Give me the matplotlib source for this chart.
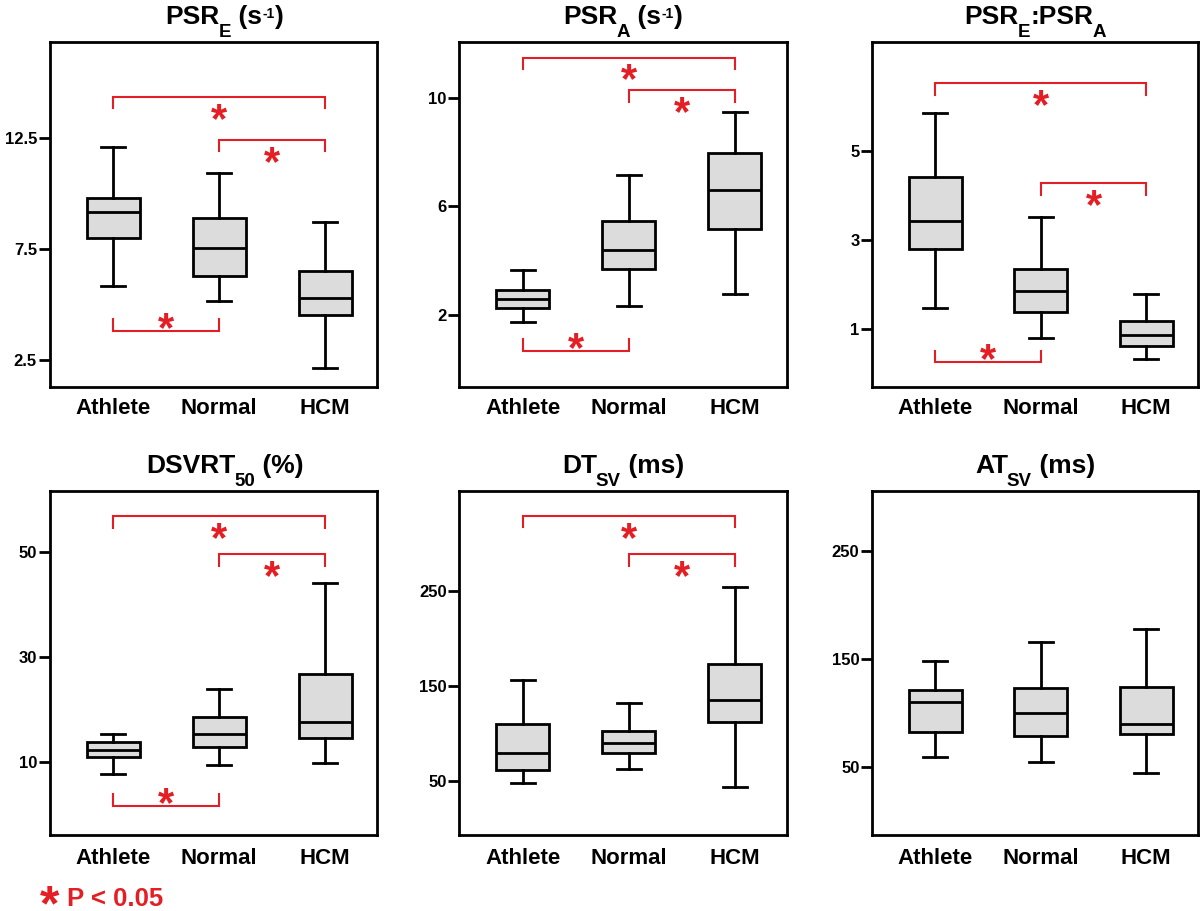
import matplotlib
matplotlib.use('Agg')
import matplotlib.pyplot as plt

plt.rcParams['font.family'] = ['Liberation Sans', 'DejaVu Sans']
plt.rcParams['font.weight'] = 'bold'

GROUPS = ['Athlete', 'Normal', 'HCM']

# five-number summaries (whisker low, Q1, median, Q3, whisker high)
PSRE_LO = [5.83, 5.17, 2.15]
PSRE_Q1 = [8.0, 6.28, 4.52]
PSRE_MED = [9.17, 7.52, 5.3]
PSRE_Q3 = [9.77, 8.87, 6.5]
PSRE_HI = [12.1, 10.9, 8.69]

PSRA_LO = [1.72, 2.31, 2.75]
PSRA_Q1 = [2.24, 3.68, 5.15]
PSRA_MED = [2.56, 4.37, 6.59]
PSRA_Q3 = [2.92, 5.45, 7.97]
PSRA_HI = [3.66, 7.14, 9.49]

RATIO_LO = [1.49, 0.81, 0.34]
RATIO_Q1 = [2.81, 1.38, 0.63]
RATIO_MED = [3.44, 1.85, 0.88]
RATIO_Q3 = [4.42, 2.35, 1.19]
RATIO_HI = [5.84, 3.51, 1.79]

DSVRT_LO = [7.77, 9.43, 9.8]
DSVRT_Q1 = [11.0, 12.92, 14.64]
DSVRT_MED = [12.23, 15.34, 17.57]
DSVRT_Q3 = [13.76, 18.58, 26.79]
DSVRT_HI = [15.4, 23.87, 44.2]

DTSV_LO = [47.9, 62.0, 43.7]
DTSV_Q1 = [61.3, 78.8, 112.1]
DTSV_MED = [78.8, 89.4, 135.0]
DTSV_Q3 = [109.7, 102.6, 172.8]
DTSV_HI = [156.0, 132.1, 254.2]

ATSV_LO = [58.7, 54.0, 43.8]
ATSV_Q1 = [82.5, 78.7, 80.0]
ATSV_MED = [109.7, 99.5, 89.9]
ATSV_Q3 = [121.1, 123.3, 124.2]
ATSV_HI = [148.0, 165.9, 177.7]

# significance brackets: (group a, group b, bar level, opening direction)
PSRE_SIG = [(0, 2, 14.34, 'down'), (1, 2, 12.4, 'down'), (0, 1, 3.82, 'up')]
PSRA_SIG = [(0, 2, 11.49, 'down'), (1, 2, 10.28, 'down'), (0, 1, 0.66, 'up')]
RATIO_SIG = [(0, 2, 6.51, 'down'), (1, 2, 4.27, 'down'), (0, 1, 0.26, 'up')]
DSVRT_SIG = [(0, 2, 56.9, 'down'), (1, 2, 49.6, 'down'), (0, 1, 1.67, 'up')]
DTSV_SIG = [(0, 2, 328.6, 'down'), (1, 2, 288.3, 'down')]
ATSV_SIG = []

PSRE_TICKS = [2.5, 7.5, 12.5]
PSRA_TICKS = [2, 6, 10]
RATIO_TICKS = [1, 3, 5]
DSVRT_TICKS = [10, 30, 50]
DTSV_TICKS = [50, 150, 250]
ATSV_TICKS = [50, 150, 250]

PSRE_TICKLABELS = ['2.5', '7.5', '12.5']

# titles as (text, role) pieces: n = normal, sub = subscript, sup = superscript
PSRE_TITLE = [('PSR', 'n'), ('E', 'sub'), (' (s', 'n'), ('-1', 'sup'), (')', 'n')]
PSRA_TITLE = [('PSR', 'n'), ('A', 'sub'), (' (s', 'n'), ('-1', 'sup'), (')', 'n')]
RATIO_TITLE = [('PSR', 'n'), ('E', 'sub'), (':PSR', 'n'), ('A', 'sub')]
DSVRT_TITLE = [('DSVRT', 'n'), ('50', 'sub'), (' (%)', 'n')]
DTSV_TITLE = [('DT', 'n'), ('SV', 'sub'), (' (ms)', 'n')]
ATSV_TITLE = [('AT', 'n'), ('SV', 'sub'), (' (ms)', 'n')]

RED = '#e31e24'
BOXFILL = '#dcdcdc'

W, H = 1200, 911
fig = plt.figure(figsize=(W / 100, H / 100), dpi=100)
renderer = fig.canvas.get_renderer()

col_l = [49.5, 459.3, 872.0]
col_r = [377.0, 786.7, 1198.0]
row_t = [42.4, 491.0]
row_b = [387.0, 835.0]

panels = [
    dict(title=PSRE_TITLE, lo=PSRE_LO, q1=PSRE_Q1, med=PSRE_MED,
         q3=PSRE_Q3, hi=PSRE_HI, sig=PSRE_SIG, ylim=(1.29, 16.78), ticks=PSRE_TICKS,
         labels=PSRE_TICKLABELS),
    dict(title=PSRA_TITLE, lo=PSRA_LO, q1=PSRA_Q1, med=PSRA_MED,
         q3=PSRA_Q3, hi=PSRA_HI, sig=PSRA_SIG, ylim=(-0.67, 12.05), ticks=PSRA_TICKS, labels=None),
    dict(title=RATIO_TITLE, lo=RATIO_LO, q1=RATIO_Q1, med=RATIO_MED,
         q3=RATIO_Q3, hi=RATIO_HI, sig=RATIO_SIG, ylim=(-0.29, 7.43), ticks=RATIO_TICKS, labels=None),
    dict(title=DSVRT_TITLE, lo=DSVRT_LO, q1=DSVRT_Q1, med=DSVRT_MED,
         q3=DSVRT_Q3, hi=DSVRT_HI, sig=DSVRT_SIG, ylim=(-3.93, 61.7), ticks=DSVRT_TICKS, labels=None),
    dict(title=DTSV_TITLE, lo=DTSV_LO, q1=DTSV_Q1, med=DTSV_MED,
         q3=DTSV_Q3, hi=DTSV_HI, sig=DTSV_SIG, ylim=(-7.2, 354.9), ticks=DTSV_TICKS, labels=None),
    dict(title=ATSV_TITLE, lo=ATSV_LO, q1=ATSV_Q1, med=ATSV_MED,
         q3=ATSV_Q3, hi=ATSV_HI, sig=ATSV_SIG, ylim=(-13.3, 305.6), ticks=ATSV_TICKS, labels=None),
]

STAR_FS = 30
STAR_CENTER = 0.48  # ink centre of asterisk above baseline (fraction of em)

TITLE_FS = 19
SUB_FS = 13.5
SUP_FS = 10
SUB_DROP = 13.0   # px
SUP_RAISE = 6.5   # px


def put_star(ax, x, y, dy_px, fs):
    em_px = fs * 100 / 72
    ax.annotate('*', xy=(x, y), xytext=(0, dy_px - STAR_CENTER * em_px),
                textcoords='offset pixels', ha='center', va='baseline',
                fontsize=fs, color=RED, fontweight='bold', annotation_clip=False)


def draw_title(pieces, cx, base_y):
    """cx, base_y in figure pixels from top-left."""
    texts = []
    widths = []
    for s, role in pieces:
        fs = TITLE_FS if role == 'n' else (SUB_FS if role == 'sub' else SUP_FS)
        t = fig.text(0, 0, s, fontsize=fs, fontweight='bold', ha='left', va='baseline')
        bb = t.get_window_extent(renderer)
        texts.append((t, role))
        widths.append(bb.width)
    gaps = []
    for i in range(len(pieces)):
        gaps.append(-1.0 if i > 0 and pieces[i][1] == 'sub' else (0.5 if i > 0 and pieces[i][1] == 'sup' else 0.0))
    total = sum(widths) + sum(gaps)
    x = cx - total / 2
    for (t, role), w, g in zip(texts, widths, gaps):
        x += g
        yy = base_y + (SUB_DROP if role == 'sub' else (-SUP_RAISE if role == 'sup' else 0))
        t.set_position((x / W, 1 - yy / H))
        x += w


positions = [1, 2, 3]
for k, p in enumerate(panels):
    r, c = divmod(k, 3)
    l, rr = col_l[c], col_r[c]
    t, b = row_t[r], row_b[r]
    ax = fig.add_axes([l / W, 1 - b / H, (rr - l) / W, (b - t) / H])
    stats = []
    for i, g in enumerate(GROUPS):
        stats.append(dict(label=g, whislo=p['lo'][i], q1=p['q1'][i], med=p['med'][i],
                          q3=p['q3'][i], whishi=p['hi'][i], fliers=[]))
    ax.bxp(stats, positions=positions, widths=0.5, capwidths=0.23, patch_artist=True,
           showfliers=False,
           boxprops=dict(facecolor=BOXFILL, edgecolor='black', linewidth=2),
           whiskerprops=dict(color='black', linewidth=2),
           capprops=dict(color='black', linewidth=2),
           medianprops=dict(color='black', linewidth=2))
    ax.set_xlim(0.4, 3.49)
    ax.set_ylim(*p['ylim'])
    ax.set_yticks(p['ticks'])
    if p['labels'] is not None:
        ax.set_yticklabels(p['labels'])
    else:
        ax.set_yticklabels([str(v) for v in p['ticks']])
    ax.set_xticks(positions)
    ax.set_xticklabels(GROUPS)
    for s in ax.spines.values():
        s.set_linewidth(2)
    ax.tick_params(axis='y', direction='out', length=8, width=2, pad=1, labelsize=12)
    ax.tick_params(axis='x', length=0, pad=8 if r == 0 else 9, labelsize=16)
    for lab in ax.get_xticklabels() + ax.get_yticklabels():
        lab.set_fontweight('bold')

    cx = (l + rr) / 2 + (11.5 if c == 0 else 0.0)
    base = t - 18.0
    draw_title(p['title'], cx, base)

    dy = (p['ylim'][1] - p['ylim'][0]) / (b - t)
    for (a, bb, lev, d) in p['sig']:
        x1, x2 = positions[a], positions[bb]
        tip = lev - 11.5 * dy if d == 'down' else lev + 11.5 * dy
        ax.plot([x1, x1, x2, x2], [tip, lev, lev, tip], color=RED, lw=1.5,
                solid_joinstyle='miter', clip_on=False)
        off = -15 if d == 'down' else 10
        put_star(ax, (x1 + x2) / 2, lev, off, STAR_FS)

# legend for significance
LEG_STAR_FS = 36
em = LEG_STAR_FS * 100 / 72
fig.text(50 / W, 1 - (896.5 + STAR_CENTER * em) / H, '*', fontsize=LEG_STAR_FS, color=RED,
         fontweight='bold', ha='center', va='baseline')
fig.text(66.7 / W, 1 - 906.5 / H, 'P < 0.05', fontsize=18.5, color=RED, fontweight='bold',
         ha='left', va='baseline')

fig.savefig('out.png', dpi=100)
